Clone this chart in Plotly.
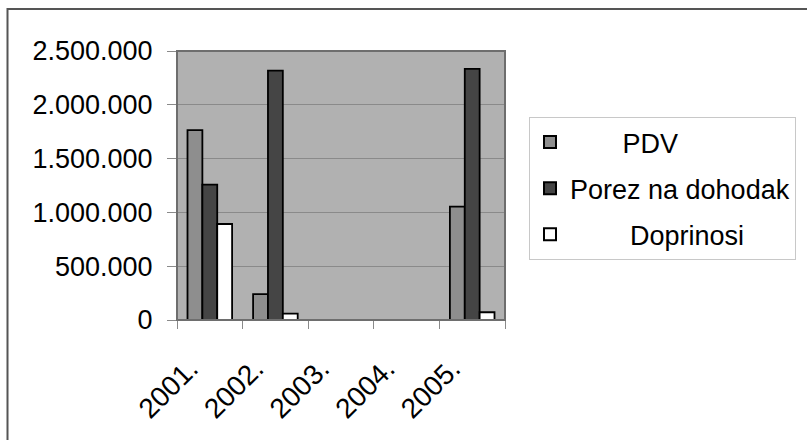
import plotly.graph_objects as go

# Category labels and series values
years = ["2001.", "2002.", "2003.", "2004.", "2005."]
pdv = [1765000, 240000, 0, 0, 1053000]
porez = [1258000, 2317000, 0, 0, 2333000]
doprinosi = [892000, 59000, 0, 0, 72000]

series_names = ["PDV", "Porez na dohodak", "Doprinosi"]
series_values = [pdv, porez, doprinosi]
series_colors = ["#8e8e8e", "#454545", "#ffffff"]
# legend labels are centered in their box, padded with non-breaking spaces
legend_pad = [7, 0, 8]

W, H = 807, 440
L, R, T, B = 177, 505, 51, 320

fig = go.Figure()
for i, (name, vals, col) in enumerate(zip(series_names, series_values, series_colors)):
    fig.add_trace(go.Bar(
        x=years, y=vals, name="\u00a0" * legend_pad[i] + name,
        marker=dict(color=col, line=dict(color="#000000", width=1.8)),
        legendgroup=f"g{i}",
    ))

def px_x(p):
    return (p - L) / (R - L)

def px_y(p):
    return (B - p) / (B - T)

font = dict(family="Liberation Sans, Arial, sans-serif", size=27, color="#000000")

fig.update_layout(
    width=W, height=H,
    margin=dict(l=L, r=W - R, t=T, b=H - B, autoexpand=False),
    paper_bgcolor="#ffffff",
    plot_bgcolor="#b1b1b1",
    separators=",.",
    barmode="group",
    bargap=0.32,
    bargroupgap=0.0,
    font=font,
    showlegend=True,
    legend=dict(
        x=px_x(529), y=px_y(117), xanchor="left", yanchor="top",
        bgcolor="#ffffff", bordercolor="#c8c8c8", borderwidth=1,
        font=dict(family="Liberation Sans, Arial, sans-serif", size=27, color="#000000"),
        traceorder="grouped", tracegroupgap=8,
        itemsizing="constant",
    ),
    xaxis=dict(
        type="category",
        tickangle=-45,
        ticks="outside", ticklen=8, tickcolor="#8a8a8a", tickwidth=1,
        tickson="boundaries",
        ticklabelstandoff=20, ticklabelshift=-20,
        showline=True, linecolor="#8a8a8a", linewidth=1,
        showgrid=False,
        tickfont=dict(family="Liberation Sans, Arial, sans-serif", size=28, color="#000000"),
    ),
    yaxis=dict(
        range=[0, 2500000], dtick=500000, tickformat=",d",
        ticks="outside", ticklen=9, tickcolor="#8a8a8a", tickwidth=1,
        ticklabelstandoff=9,
        showline=True, linecolor="#8a8a8a", linewidth=1,
        showgrid=True, gridcolor="#8a8a8a", gridwidth=1,
        zeroline=False,
        tickfont=font,
    ),
    shapes=[
        # frame around plot area
        dict(type="rect", xref="paper", yref="paper", x0=0, y0=0, x1=1, y1=1,
             line=dict(color="#6e6e6e", width=2), fillcolor="rgba(0,0,0,0)", layer="above"),
        # outer chart border (runs off the right and bottom edges)
        dict(type="rect", xref="paper", yref="paper",
             x0=px_x(7.5), y0=px_y(450), x1=px_x(820), y1=px_y(9),
             line=dict(color="#555555", width=2), fillcolor="rgba(0,0,0,0)", layer="above"),
    ],
)

fig.write_html("out.html")
